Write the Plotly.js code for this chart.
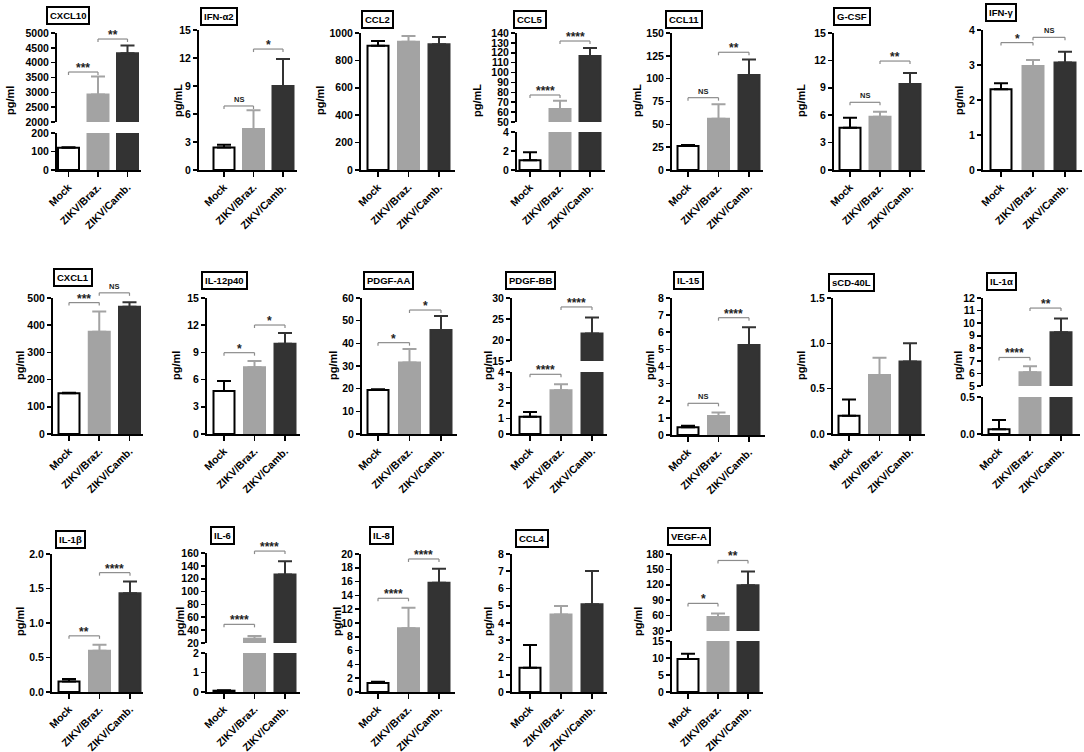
<!DOCTYPE html>
<html><head><meta charset="utf-8">
<script src="https://cdn.plot.ly/plotly-3.0.1.min.js"></script>
<style>html,body{margin:0;padding:0;background:#fff}#chart{width:1084px;height:752px}</style>
</head><body><div id="chart"></div>
<script>
// ---------------- DATA ----------------
const categories = ['Mock', 'ZIKV/Braz.', 'ZIKV/Camb.'];

const cxcl10Mean = [120, 2930, 4320];   const cxcl10Err = [3, 600, 260];
const cxcl10Sig = [[0, 1, '***', 3685], [1, 2, '**', 4797]];
const ifna2Mean = [2.4, 4.4, 9.0];      const ifna2Err = [0.3, 2.0, 2.9];
const ifna2Sig = [[0, 1, 'NS', 6.86], [1, 2, '*', 12.96]];
const ccl2Mean = [907, 936, 917];       const ccl2Err = [34, 42, 54];
const ccl2Sig = [];
const ccl5Mean = [1.02, 63.1, 116.7];   const ccl5Err = [0.84, 8.4, 8.1];
const ccl5Sig = [[0, 1, '****', 77.3], [1, 2, '****', 131.9]];
const ccl11Mean = [26.3, 56.2, 104];    const ccl11Err = [1.0, 15.8, 17];
const ccl11Sig = [[0, 1, 'NS', 79.2], [1, 2, '**', 128.9]];
const gcsfMean = [4.63, 5.84, 9.42];    const gcsfErr = [1.10, 0.54, 1.20];
const gcsfSig = [[0, 1, 'NS', 7.41], [1, 2, '**', 11.93]];
const ifngMean = [2.31, 2.97, 3.07];    const ifngErr = [0.17, 0.17, 0.31];
const ifngSig = [[0, 1, '*', 3.64], [1, 2, 'NS', 3.79]];
const cxcl1Mean = [150, 376, 468];      const cxcl1Err = [2, 74, 16];
const cxcl1Sig = [[0, 1, '***', 483], [1, 2, 'NS', 519]];
const il12Mean = [4.74, 7.36, 9.96];    const il12Err = [1.11, 0.69, 1.18];
const il12Sig = [[0, 1, '*', 8.97], [1, 2, '*', 12.02]];
const pdgfaaMean = [19.4, 31.5, 45.9];  const pdgfaaErr = [0.3, 6.0, 6.2];
const pdgfaaSig = [[0, 1, '*', 40.3], [1, 2, '*', 54.7]];
const pdgfbbMean = [1.12, 2.83, 21.56]; const pdgfbbErr = [0.30, 0.38, 3.8];
const pdgfbbSig = [[0, 1, '****', 3.85], [1, 2, '****', 27.87]];
const il15Mean = [0.45, 1.11, 5.26];    const il15Err = [0.09, 0.21, 1.03];
const il15Sig = [[0, 1, 'NS', 1.85], [1, 2, '****', 6.85]];
const scd40lMean = [0.20, 0.65, 0.80];  const scd40lErr = [0.18, 0.19, 0.20];
const scd40lSig = [];
const il1aMean = [0.063, 6.09, 9.28];   const il1aErr = [0.127, 0.49, 1.08];
const il1aSig = [[0, 1, '****', 7.27], [1, 2, '**', 11.2]];
const il1bMean = [0.153, 0.597, 1.43];  const il1bErr = [0.037, 0.087, 0.17];
const il1bSig = [[0, 1, '**', 0.814], [1, 2, '****', 1.73]];
const il6Mean = [0.067, 26.8, 126.4];   const il6Err = [0.02, 4.1, 20.6];
const il6Sig = [[0, 1, '****', 49], [1, 2, '****', 163]];
const il8Mean = [1.30, 9.23, 15.84];    const il8Err = [0.19, 2.97, 2.03];
const il8Sig = [[0, 1, '****', 13.58], [1, 2, '****', 19.28]];
const ccl4Mean = [1.41, 4.50, 5.08];    const ccl4Err = [1.31, 0.49, 1.93];
const ccl4Sig = [];
const vegfaMean = [9.67, 57.5, 119.2];  const vegfaErr = [1.57, 6.7, 26.8];
const vegfaSig = [[0, 1, '*', 83.8], [1, 2, '**', 167.4]];

const panels = [
  {name: 'CXCL10',  unit: 'pg/ml', mean: cxcl10Mean, err: cxcl10Err, sig: cxcl10Sig},
  {name: 'IFN-α2',  unit: 'pg/mL', mean: ifna2Mean,  err: ifna2Err,  sig: ifna2Sig},
  {name: 'CCL2',    unit: 'pg/ml', mean: ccl2Mean,   err: ccl2Err,   sig: ccl2Sig},
  {name: 'CCL5',    unit: 'pg/mL', mean: ccl5Mean,   err: ccl5Err,   sig: ccl5Sig},
  {name: 'CCL11',   unit: 'pg/mL', mean: ccl11Mean,  err: ccl11Err,  sig: ccl11Sig},
  {name: 'G-CSF',   unit: 'pg/mL', mean: gcsfMean,   err: gcsfErr,   sig: gcsfSig},
  {name: 'IFN-γ',   unit: 'pg/ml', mean: ifngMean,   err: ifngErr,   sig: ifngSig},
  {name: 'CXCL1',   unit: 'pg/ml', mean: cxcl1Mean,  err: cxcl1Err,  sig: cxcl1Sig},
  {name: 'IL-12p40',unit: 'pg/ml', mean: il12Mean,   err: il12Err,   sig: il12Sig},
  {name: 'PDGF-AA', unit: 'pg/ml', mean: pdgfaaMean, err: pdgfaaErr, sig: pdgfaaSig},
  {name: 'PDGF-BB', unit: 'pg/ml', mean: pdgfbbMean, err: pdgfbbErr, sig: pdgfbbSig},
  {name: 'IL-15',   unit: 'pg/ml', mean: il15Mean,   err: il15Err,   sig: il15Sig},
  {name: 'sCD-40L', unit: 'pg/ml', mean: scd40lMean, err: scd40lErr, sig: scd40lSig},
  {name: 'IL-1α',   unit: 'pg/ml', mean: il1aMean,   err: il1aErr,   sig: il1aSig},
  {name: 'IL-1β',   unit: 'pg/ml', mean: il1bMean,   err: il1bErr,   sig: il1bSig},
  {name: 'IL-6',    unit: 'pg/ml', mean: il6Mean,    err: il6Err,    sig: il6Sig},
  {name: 'IL-8',    unit: 'pg/ml', mean: il8Mean,    err: il8Err,    sig: il8Sig},
  {name: 'CCL4',    unit: 'pg/ml', mean: ccl4Mean,   err: ccl4Err,   sig: ccl4Sig},
  {name: 'VEGF-A',  unit: 'pg/ml', mean: vegfaMean,  err: vegfaErr,  sig: vegfaSig}
];

// ---------------- FRAMES (layout geometry, px) ----------------
// x: [axisStart, axisEnd, firstBarCenter, lastBarCenter]
// seg: [rangeLow, rangeHigh, pxBottom, pxTop, dtick, format]
const frames = [
  {x: [57, 141, 68.5, 127.5], seg: [[0, 200, 170, 133, 100], [2000, 5000, 122, 33, 500]], t: [68, 15.5], yl: [10, 101]},
  {x: [199, 297, 224, 283], seg: [[0, 15, 170, 30, 3]], t: [219, 16], yl: [178, 101]},
  {x: [361, 455, 378, 439], seg: [[0, 1000, 170, 33, 200]], t: [377, 20], yl: [320, 101]},
  {x: [517, 605, 530, 590], seg: [[0, 4, 170, 132, 2], [50, 140, 122, 33, 10]], t: [530, 20], yl: [477, 101]},
  {x: [672, 763, 688, 749], seg: [[0, 150, 170, 33, 25]], t: [684, 20], yl: [637, 101]},
  {x: [834, 925, 850, 910], seg: [[0, 15, 170, 33, 3]], t: [852, 16], yl: [801, 101]},
  {x: [983, 1082, 1001, 1065], seg: [[0, 4, 170, 30, 1]], t: [1001, 13], yl: [959, 101]},
  {x: [53, 143, 69, 129.5], seg: [[0, 500, 434, 298, 100]], t: [73, 277], yl: [20, 366]},
  {x: [207, 300, 224, 285], seg: [[0, 15, 434, 298, 3]], t: [224, 280], yl: [176, 366]},
  {x: [362, 457, 378, 441], seg: [[0, 60, 434, 298, 10]], t: [388, 280], yl: [333, 366]},
  {x: [512, 607, 530, 592], seg: [[0, 4, 434, 372, 1], [15, 30, 361, 298, 5]], t: [530, 280], yl: [488, 366]},
  {x: [672, 765, 688, 749], seg: [[0, 8, 435, 298, 1]], t: [688, 280], yl: [650, 366]},
  {x: [833, 925, 849, 910], seg: [[0, 1.5, 434, 298, 0.5, '.1f']], t: [851, 282], yl: [801, 366]},
  {x: [983, 1080, 999, 1061], seg: [[0, 0.5, 434, 397, 0.5, '.1f'], [5, 12, 386, 298, 1]], t: [1001, 281], yl: [958, 366]},
  {x: [52, 143, 69, 130], seg: [[0, 2, 692, 554, 0.5, '.1f']], t: [70, 539], yl: [20, 622]},
  {x: [207, 300, 224, 285], seg: [[0, 2, 692, 653, 1], [20, 160, 643, 553, 20]], t: [222, 535], yl: [180, 622]},
  {x: [361, 455, 378, 439], seg: [[0, 20, 692, 554, 2]], t: [381, 535], yl: [337, 622]},
  {x: [512, 607, 530, 592], seg: [[0, 8, 692, 554, 1]], t: [532, 538], yl: [488, 622]},
  {x: [672, 763, 688, 748], seg: [[0, 15, 692, 641, 5], [30, 180, 631, 554, 30]], t: [689, 536], yl: [638, 622]}
];

// ---------------- STYLE ----------------
const W = 1084, H = 752;
const FONT = 'Liberation Sans, Arial, Helvetica, sans-serif';
const BAR_PX = 21;
const fills = ['#ffffff', '#a3a3a3', '#333333'];
const outlines = ['#000000', '#a3a3a3', '#333333'];
const errColors = ['#000000', '#a3a3a3', '#333333'];
const bracketColor = '#8c8c8c';

const px2x = p => p / W;
const px2y = p => 1 - p / H;

const traces = [];
const layout = {
  width: W, height: H,
  margin: {l: 0, r: 0, t: 0, b: 0},
  barmode: 'overlay',
  showlegend: false,
  paper_bgcolor: '#ffffff',
  plot_bgcolor: 'rgba(0,0,0,0)',
  font: {family: FONT, color: '#000'},
  annotations: [],
  shapes: []
};

let yCount = 0;
panels.forEach((p, i) => {
  const f = frames[i];
  const xn = i + 1;
  const xid = xn === 1 ? 'x' : 'x' + xn;
  const xkey = xn === 1 ? 'xaxis' : 'xaxis' + xn;
  const s = (f.x[3] - f.x[2]) / 2;
  const r0 = -(f.x[2] - f.x[0]) / s;
  const r1 = 2 + (f.x[1] - f.x[3]) / s;

  const segAxes = [];
  f.seg.forEach((sg, k) => {
    yCount++;
    const yid = yCount === 1 ? 'y' : 'y' + yCount;
    const ykey = yCount === 1 ? 'yaxis' : 'yaxis' + yCount;
    segAxes.push({yid, sg});
    layout[ykey] = {
      domain: [px2y(sg[2]), px2y(sg[3])],
      range: [sg[0], sg[1]],
      anchor: xid,
      showline: true, linewidth: 2, linecolor: '#000',
      ticks: 'outside', ticklen: 4, tickwidth: 1.6, tickcolor: '#000',
      tick0: 0, dtick: sg[4],
      tickformat: sg[5] || '',
      showgrid: false, zeroline: false,
      tickfont: {family: FONT, size: 10.5, color: '#000', weight: 'bold'},
      fixedrange: true
    };
    categories.forEach((c, j) => {
      traces.push({
        type: 'bar',
        x: [j], y: [p.mean[j]],
        xaxis: xid, yaxis: yid,
        width: BAR_PX / s,
        marker: {color: fills[j], line: {color: outlines[j], width: 2}},
        error_y: {type: 'data', symmetric: false, array: [p.err[j]], arrayminus: [0],
                  color: errColors[j], thickness: 2, width: 7},
        hoverinfo: 'skip'
      });
    });
  });

  layout[xkey] = {
    domain: [px2x(f.x[0]), px2x(f.x[1])],
    range: [r0, r1],
    anchor: segAxes[0].yid,
    tickmode: 'array', tickvals: [0, 1, 2], ticktext: categories,
    tickangle: -45,
    showline: true, linewidth: 2, linecolor: '#000',
    ticks: 'outside', ticklen: 5, tickwidth: 1.6, tickcolor: '#000',
    showgrid: false, zeroline: false,
    tickfont: {family: FONT, size: 10.5, color: '#000', weight: 'bold'},
    fixedrange: true
  };

  // significance brackets
  p.sig.forEach(b => {
    const lvl = b[3];
    let seg = segAxes[segAxes.length - 1];
    for (const sa of segAxes) { if (lvl <= sa.sg[1]) { seg = sa; break; } }
    const sg = seg.sg;
    const frac = (lvl - sg[0]) / (sg[1] - sg[0]);
    const drop = 3 / (sg[2] - sg[3]);
    const yref = seg.yid + ' domain';
    const ln = {color: bracketColor, width: 1.2};
    layout.shapes.push({type: 'line', xref: xid, yref, x0: b[0], x1: b[1], y0: frac, y1: frac, line: ln});
    layout.shapes.push({type: 'line', xref: xid, yref, x0: b[0], x1: b[0], y0: frac - drop, y1: frac, line: ln});
    layout.shapes.push({type: 'line', xref: xid, yref, x0: b[1], x1: b[1], y0: frac - drop, y1: frac, line: ln});
    const isNS = b[2] === 'NS';
    layout.annotations.push({
      xref: xid, yref, x: (b[0] + b[1]) / 2, y: frac,
      text: b[2], showarrow: false, xanchor: 'center', yanchor: 'bottom',
      yshift: isNS ? 1 : -4, borderpad: 0,
      font: {family: FONT, size: isNS ? 7.5 : 12, color: '#222', weight: 'bold'}
    });
  });

  // boxed title
  layout.annotations.push({
    xref: 'paper', yref: 'paper', x: px2x(f.t[0]), y: px2y(f.t[1]),
    xanchor: 'center', yanchor: 'middle', showarrow: false,
    text: p.name, bordercolor: '#000', borderwidth: 2, borderpad: 2, bgcolor: '#fff',
    font: {family: FONT, size: 9.5, color: '#000', weight: 'bold'}
  });
  // y unit label
  layout.annotations.push({
    xref: 'paper', yref: 'paper', x: px2x(f.yl[0]), y: px2y(f.yl[1]),
    xanchor: 'center', yanchor: 'middle', showarrow: false, textangle: -90,
    text: p.unit,
    font: {family: FONT, size: 11, color: '#000', weight: 'bold'}
  });
});

Plotly.newPlot('chart', traces, layout, {staticPlot: true, displayModeBar: false});
</script>
</body></html>
